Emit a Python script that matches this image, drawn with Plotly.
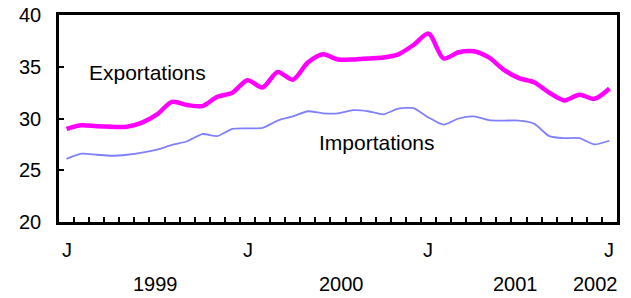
import plotly.graph_objects as go

# Monthly data, Jan 1999 .. Jan 2002 (index 0..36)
months = list(range(37))
exportations = [29.0, 29.35, 29.25, 29.2, 29.2, 29.6, 30.4, 31.6, 31.3, 31.2,
                32.1, 32.5, 33.7, 33.0, 34.5, 33.75, 35.4, 36.2, 35.7, 35.7,
                35.8, 35.9, 36.2, 37.1, 38.2, 35.8, 36.4, 36.5, 35.9, 34.7,
                33.9, 33.5, 32.5, 31.75, 32.3, 31.9, 32.9]
importations = [26.1, 26.6, 26.5, 26.4, 26.5, 26.7, 27.0, 27.45, 27.8, 28.5,
                28.3, 29.0, 29.05, 29.1, 29.8, 30.2, 30.7, 30.5, 30.5, 30.8,
                30.7, 30.4, 30.95, 31.0, 30.1, 29.4, 30.0, 30.2, 29.85, 29.8,
                29.8, 29.5, 28.3, 28.1, 28.1, 27.5, 27.85]

month_labels = ["J", "J", "J", "J"]
month_label_pos = [0, 12, 24, 36]
year_labels = ["1999", "2000", "2001", "2002"]
year_label_pos = [5.9, 18.2, 29.8, 35.1]
tick_bounds = [i + 0.5 for i in range(36)]

FONT = "Liberation Sans, Arial, sans-serif"

fig = go.Figure()
fig.add_trace(go.Scatter(x=months, y=importations, mode="lines",
                         line=dict(color="#8080FF", width=1.8, shape="spline", smoothing=0.6),
                         showlegend=False, hoverinfo="skip"))
fig.add_trace(go.Scatter(x=months, y=exportations, mode="lines",
                         line=dict(color="#FF00FF", width=4.5, shape="spline", smoothing=0.8),
                         showlegend=False, hoverinfo="skip"))

annotations = []
for lab, pos in zip(month_labels, month_label_pos):
    annotations.append(dict(x=pos, y=-0.135, xref="x", yref="paper", text=lab,
                            showarrow=False, xanchor="center", yanchor="middle",
                            font=dict(family=FONT, size=20, color="black")))
for lab, pos in zip(year_labels, year_label_pos):
    annotations.append(dict(x=pos, y=-0.362, xref="x", yref="paper", text=lab,
                            showarrow=False, xanchor="center", yanchor="bottom",
                            font=dict(family=FONT, size=20, color="black")))
annotations.append(dict(x=5.37, y=34.4, xref="x", yref="y", text="Exportations",
                        showarrow=False, xanchor="center", yanchor="middle",
                        font=dict(family=FONT, size=21, color="black")))
annotations.append(dict(x=20.6, y=27.7, xref="x", yref="y", text="Importations",
                        showarrow=False, xanchor="center", yanchor="middle",
                        font=dict(family=FONT, size=21, color="black")))

fig.update_layout(
    width=631, height=298,
    margin=dict(l=59, r=14, t=15, b=76, autoexpand=False),
    paper_bgcolor="white", plot_bgcolor="white",
    font=dict(family=FONT, size=20, color="black"),
    annotations=annotations,
    xaxis=dict(range=[-0.5, 36.5], tickvals=tick_bounds, ticktext=[""] * len(tick_bounds),
               ticks="inside", ticklen=5, tickwidth=1.5, tickcolor="black",
               showgrid=False, zeroline=False, showline=True, linewidth=2.5,
               linecolor="black", mirror=True, fixedrange=True, automargin=False),
    yaxis=dict(range=[20, 40], tickvals=[20, 25, 30, 35, 40],
               ticks="inside", ticklen=5, tickwidth=1.5, tickcolor="black",
               showgrid=False, zeroline=False, showline=True, linewidth=2.5,
               linecolor="black", mirror=True, ticklabelstandoff=11,
               tickfont=dict(family=FONT, size=20, color="black"), fixedrange=True,
               automargin=False),
)

fig.write_html("out.html", config={"displayModeBar": False},
               post_script="document.body.style.margin='0';")
